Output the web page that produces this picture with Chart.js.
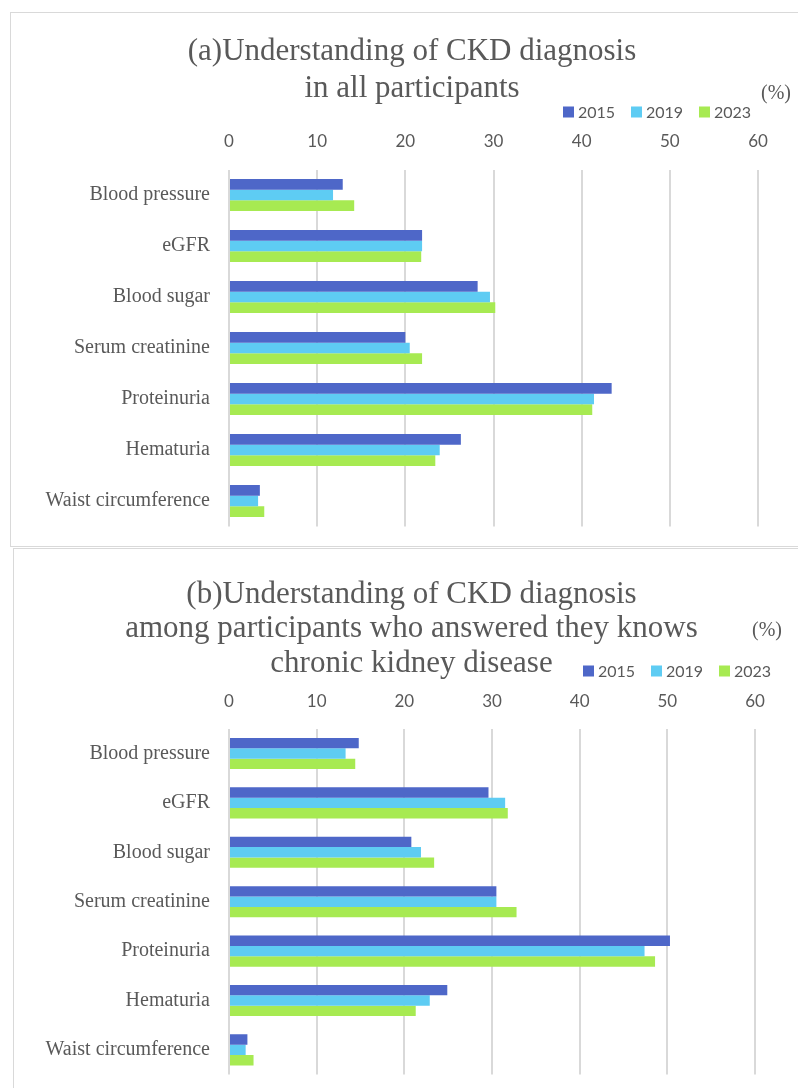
<!DOCTYPE html>
<html>
<head>
<meta charset="utf-8">
<script src="https://cdn.jsdelivr.net/npm/chart.js@4.4.1/dist/chart.umd.min.js"></script>
<style>
  html, body { margin: 0; padding: 0; background: #ffffff; }
  body { width: 798px; height: 1088px; position: relative; overflow: hidden; }
  .frame { position: absolute; border: 1.5px solid #d9d9d9; box-sizing: border-box; }
  .holder { position: absolute; left: 0; }
  canvas { display: block; }
</style>
</head>
<body>
<div class="frame" style="left:10.25px; top:12.25px; width:800px; height:534.25px;"></div>
<div class="frame" style="left:13.25px; top:547.5px; width:800px; height:560px;"></div>
<div class="holder" style="top:0px; width:798px; height:546px;"><canvas id="chartA" width="798" height="546" style="width:798px;height:546px"></canvas></div>
<div class="holder" style="top:548px; width:798px; height:540px;"><canvas id="chartB" width="798" height="540" style="width:798px;height:540px"></canvas></div>
<script>
// ---------- data ----------
const categories = ['Blood pressure', 'eGFR', 'Blood sugar', 'Serum creatinine', 'Proteinuria', 'Hematuria', 'Waist circumference'];
const seriesLabels = ['2015', '2019', '2023'];
const xTickValues = [0, 10, 20, 30, 40, 50, 60];

// (a) all participants (%)
const allParticipants2015 = [12.9, 21.9, 28.2, 20.0, 43.4, 26.3, 3.5];
const allParticipants2019 = [11.8, 21.9, 29.6, 20.5, 41.4, 23.9, 3.3];
const allParticipants2023 = [14.2, 21.8, 30.2, 21.9, 41.2, 23.4, 4.0];

// (b) participants who know CKD (%)
const knowers2015 = [14.8, 29.6, 20.8, 30.5, 50.3, 24.9, 2.1];
const knowers2019 = [13.3, 31.5, 21.9, 30.5, 47.4, 22.9, 1.9];
const knowers2023 = [14.4, 31.8, 23.4, 32.8, 48.6, 21.3, 2.8];

const titleA = ['(a)Understanding of CKD diagnosis', 'in all participants'];
const titleB = ['(b)Understanding of CKD diagnosis', 'among participants who answered they knows', 'chronic kidney disease'];
const unitLabel = '(%)';

// ---------- styles ----------
const seriesColors = ['#4E67C8', '#5ECCF3', '#A7EA52'];
const textGray = '#595959';
const gridGray = '#d9d9d9';

const headerPlugin = {
  id: 'header',
  afterDraw(chart, args, o) {
    const ctx = chart.ctx;
    ctx.save();
    ctx.fillStyle = textGray;
    ctx.font = o.titleFont;
    ctx.textAlign = 'center';
    ctx.textBaseline = 'alphabetic';
    o.titleLines.forEach((t, i) => ctx.fillText(t, o.titleX, o.titleBaselines[i]));
    ctx.font = o.unitFont;
    ctx.textAlign = 'left';
    ctx.fillText(o.unitText, o.unitX, o.unitY);
    ctx.font = o.legendFont;
    ctx.textBaseline = 'middle';
    chart.data.datasets.forEach((ds, i) => {
      const x = o.legendX[i];
      ctx.fillStyle = ds.backgroundColor;
      ctx.fillRect(x, o.legendY - 5.5, 11, 11);
      ctx.fillStyle = textGray;
      ctx.fillText(ds.label, x + 15, o.legendY + 0.5);
    });
    ctx.restore();
  }
};

function makeDatasets(a, b, c) {
  return [a, b, c].map((vals, i) => ({
    label: seriesLabels[i],
    data: vals,
    backgroundColor: seriesColors[i],
    borderWidth: 0,
    categoryPercentage: 0.63,
    barPercentage: 1.0
  }));
}

function makeOptions(pad, axisHeight, tickPad, header) {
  return {
    indexAxis: 'y',
    responsive: false,
    animation: false,
    devicePixelRatio: 1,
    layout: { padding: pad },
    plugins: {
      legend: { display: false },
      title: { display: false },
      tooltip: { enabled: false },
      header: header
    },
    scales: {
      x: {
        position: 'top',
        min: xTickValues[0],
        max: xTickValues[xTickValues.length - 1],
        afterBuildTicks: (s) => { s.ticks = xTickValues.map(v => ({ value: v })); },
        afterFit: (s) => { s.height = axisHeight; },
        ticks: {
          padding: tickPad,
          color: textGray,
          font: { family: 'Lato, "Liberation Sans", sans-serif', size: 17 },
          maxRotation: 0
        },
        grid: { color: gridGray, lineWidth: 2, drawTicks: false },
        border: { display: false }
      },
      y: {
        afterFit: (s) => { s.width = 229; s.paddingTop = 0; s.paddingBottom = 0; },
        ticks: {
          padding: 19,
          color: textGray,
          font: { family: '"Liberation Serif", "DejaVu Serif", serif', size: 20 }
        },
        grid: { display: false, drawTicks: false },
        border: { display: false }
      }
    }
  };
}

new Chart(document.getElementById('chartA'), {
  type: 'bar',
  data: { labels: categories, datasets: makeDatasets(allParticipants2015, allParticipants2019, allParticipants2023) },
  options: makeOptions({ left: 0, right: 40, top: 129.5, bottom: 19.5 }, 40, 18, {
    titleLines: titleA,
    titleFont: '31px "Liberation Serif", serif',
    titleX: 412,
    titleBaselines: [60, 97],
    unitText: unitLabel,
    unitFont: '20px "Liberation Serif", serif',
    unitX: 761,
    unitY: 99,
    legendFont: '16px Lato, "Liberation Sans", sans-serif',
    legendX: [563, 631, 699],
    legendY: 112
  }),
  plugins: [headerPlugin]
});

new Chart(document.getElementById('chartB'), {
  type: 'bar',
  data: { labels: categories, datasets: makeDatasets(knowers2015, knowers2019, knowers2023) },
  options: makeOptions({ left: 0, right: 43, top: 140.8, bottom: 13.4 }, 40, 17, {
    titleLines: titleB,
    titleFont: '31px "Liberation Serif", serif',
    titleX: 411.5,
    titleBaselines: [55, 89, 124],
    unitText: unitLabel,
    unitFont: '20px "Liberation Serif", serif',
    unitX: 752,
    unitY: 88,
    legendFont: '16px Lato, "Liberation Sans", sans-serif',
    legendX: [583, 651, 719],
    legendY: 123
  }),
  plugins: [headerPlugin]
});
</script>
</body>
</html>
